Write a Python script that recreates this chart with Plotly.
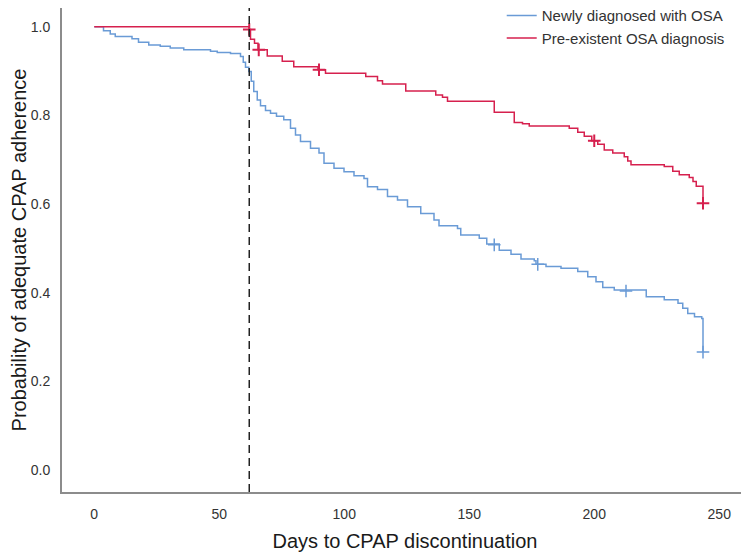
import plotly.graph_objects as go

# Kaplan-Meier step curves (day, survival probability)
new_days = [0, 3.7, 6.4, 8.4, 15.1, 17.7, 21.8, 26.4, 30.4, 35.8, 46.5, 49.2, 54.5, 58.5, 59.6,
            60.5, 61.8, 62.8, 63.8, 65.2, 66.5, 68.5, 70.5, 72.9, 75.8, 78.5, 80.5, 82.5, 86.5,
            89.9, 91.9, 95.9, 99.9, 103.9, 107.9, 109.3, 113.3, 117.3, 121.3, 125.3, 130.6,
            135.9, 137.9, 145.3, 146.6, 154.0, 157.0, 162.0, 166.7, 170.7, 176.0, 176.7, 180.7,
            186.7, 193.4, 197.4, 200.7, 203.4, 208.0, 220.8, 228.0, 233.5, 235.4, 237.4, 240.1,
            243.0, 243.5]
new_surv = [1.0, 0.991, 0.984, 0.978, 0.973, 0.965, 0.959, 0.956, 0.952, 0.948, 0.945, 0.942,
            0.940, 0.933, 0.920, 0.909, 0.899, 0.877, 0.854, 0.835, 0.822, 0.811, 0.805, 0.798,
            0.790, 0.771, 0.756, 0.741, 0.726, 0.715, 0.692, 0.681, 0.673, 0.664, 0.658, 0.639,
            0.633, 0.617, 0.609, 0.594, 0.579, 0.564, 0.551, 0.545, 0.530, 0.523, 0.510, 0.496,
            0.487, 0.476, 0.472, 0.464, 0.459, 0.455, 0.448, 0.436, 0.425, 0.412, 0.406, 0.391,
            0.384, 0.376, 0.365, 0.353, 0.346, 0.342, 0.266]
new_cens_days = [160.0, 177.4, 212.7, 243.5]
new_cens_surv = [0.508, 0.464, 0.404, 0.266]

pre_days = [0, 62.0, 62.5, 64.1, 65.5, 69.2, 75.2, 79.8, 89.5, 92.5, 108.6, 113.3, 115.3, 124.6,
            136.6, 139.3, 141.3, 160.0, 168.0, 171.3, 174.0, 190.0, 193.4, 196.0, 199.0, 201.4,
            204.0, 207.4, 212.0, 213.4, 214.7, 228.0, 231.4, 234.0, 238.0, 239.5, 240.8, 243.5]
pre_surv = [1.0, 0.994, 0.972, 0.963, 0.948, 0.934, 0.922, 0.910, 0.903, 0.895, 0.888, 0.878,
            0.871, 0.855, 0.846, 0.841, 0.832, 0.807, 0.784, 0.781, 0.776, 0.771, 0.762, 0.753,
            0.743, 0.735, 0.722, 0.715, 0.707, 0.697, 0.689, 0.685, 0.674, 0.666, 0.660, 0.651,
            0.640, 0.602]
pre_cens_days = [62.0, 65.8, 89.9, 200.0, 243.5]
pre_cens_surv = [0.994, 0.948, 0.903, 0.743, 0.602]

cutoff_day = 62

x_ticks = [0, 50, 100, 150, 200, 250]
y_ticks = [0.0, 0.2, 0.4, 0.6, 0.8, 1.0]

blue = "#6a9bd6"
red = "#d6204e"

fig = go.Figure()
fig.add_trace(go.Scatter(x=new_days, y=new_surv, mode="lines", line=dict(color=blue, width=1.5, shape="hv"),
                         name="Newly diagnosed with OSA"))
fig.add_trace(go.Scatter(x=pre_days, y=pre_surv, mode="lines", line=dict(color=red, width=1.5, shape="hv"),
                         name="Pre-existent OSA diagnosis"))
fig.add_trace(go.Scatter(x=new_cens_days, y=new_cens_surv, mode="markers", showlegend=False,
                         marker=dict(symbol="cross-thin", size=9, line=dict(color=blue, width=1.5))))
fig.add_trace(go.Scatter(x=pre_cens_days, y=pre_cens_surv, mode="markers", showlegend=False,
                         marker=dict(symbol="cross-thin", size=9, line=dict(color=red, width=2))))

fig.add_shape(type="line", x0=cutoff_day, x1=cutoff_day, y0=0, y1=1, xref="x", yref="paper",
              line=dict(color="#222222", width=1.5, dash="8px,5px"))

fig.update_layout(
    width=741, height=547,
    margin=dict(l=54, r=1, t=0, b=63, autoexpand=False),
    paper_bgcolor="white", plot_bgcolor="white",
    font=dict(family="Liberation Sans, Arial, sans-serif", color="#222222"),
    showlegend=True,
    legend=dict(x=0.641, y=1.018, xanchor="left", yanchor="top", bgcolor="rgba(0,0,0,0)",
                font=dict(size=15, color="#333333"), tracegroupgap=0, itemwidth=30),
)
fig.update_xaxes(range=[-12.9, 261.5], tickvals=x_ticks, showgrid=False, zeroline=False,
                 showline=True, linecolor="#8c8c8c", linewidth=2, ticks="", automargin=False,
                 tickfont=dict(size=14, color="#333333"), ticklabelstandoff=8,
                 title=dict(text="Days to CPAP discontinuation", font=dict(size=20, color="#1a1a1a"),
                            standoff=13))
fig.update_yaxes(range=[-0.0496, 1.0424], tickvals=y_ticks, tickformat=".1f", showgrid=False,
                 zeroline=False, showline=True, linecolor="#8c8c8c", linewidth=2, ticks="",
                 automargin=False,
                 tickfont=dict(size=14, color="#333333"), ticklabelstandoff=7,
                 title=dict(text="Probability of adequate CPAP adherence",
                            font=dict(size=20, color="#1a1a1a"), standoff=5))

fig.write_html("out.html")
